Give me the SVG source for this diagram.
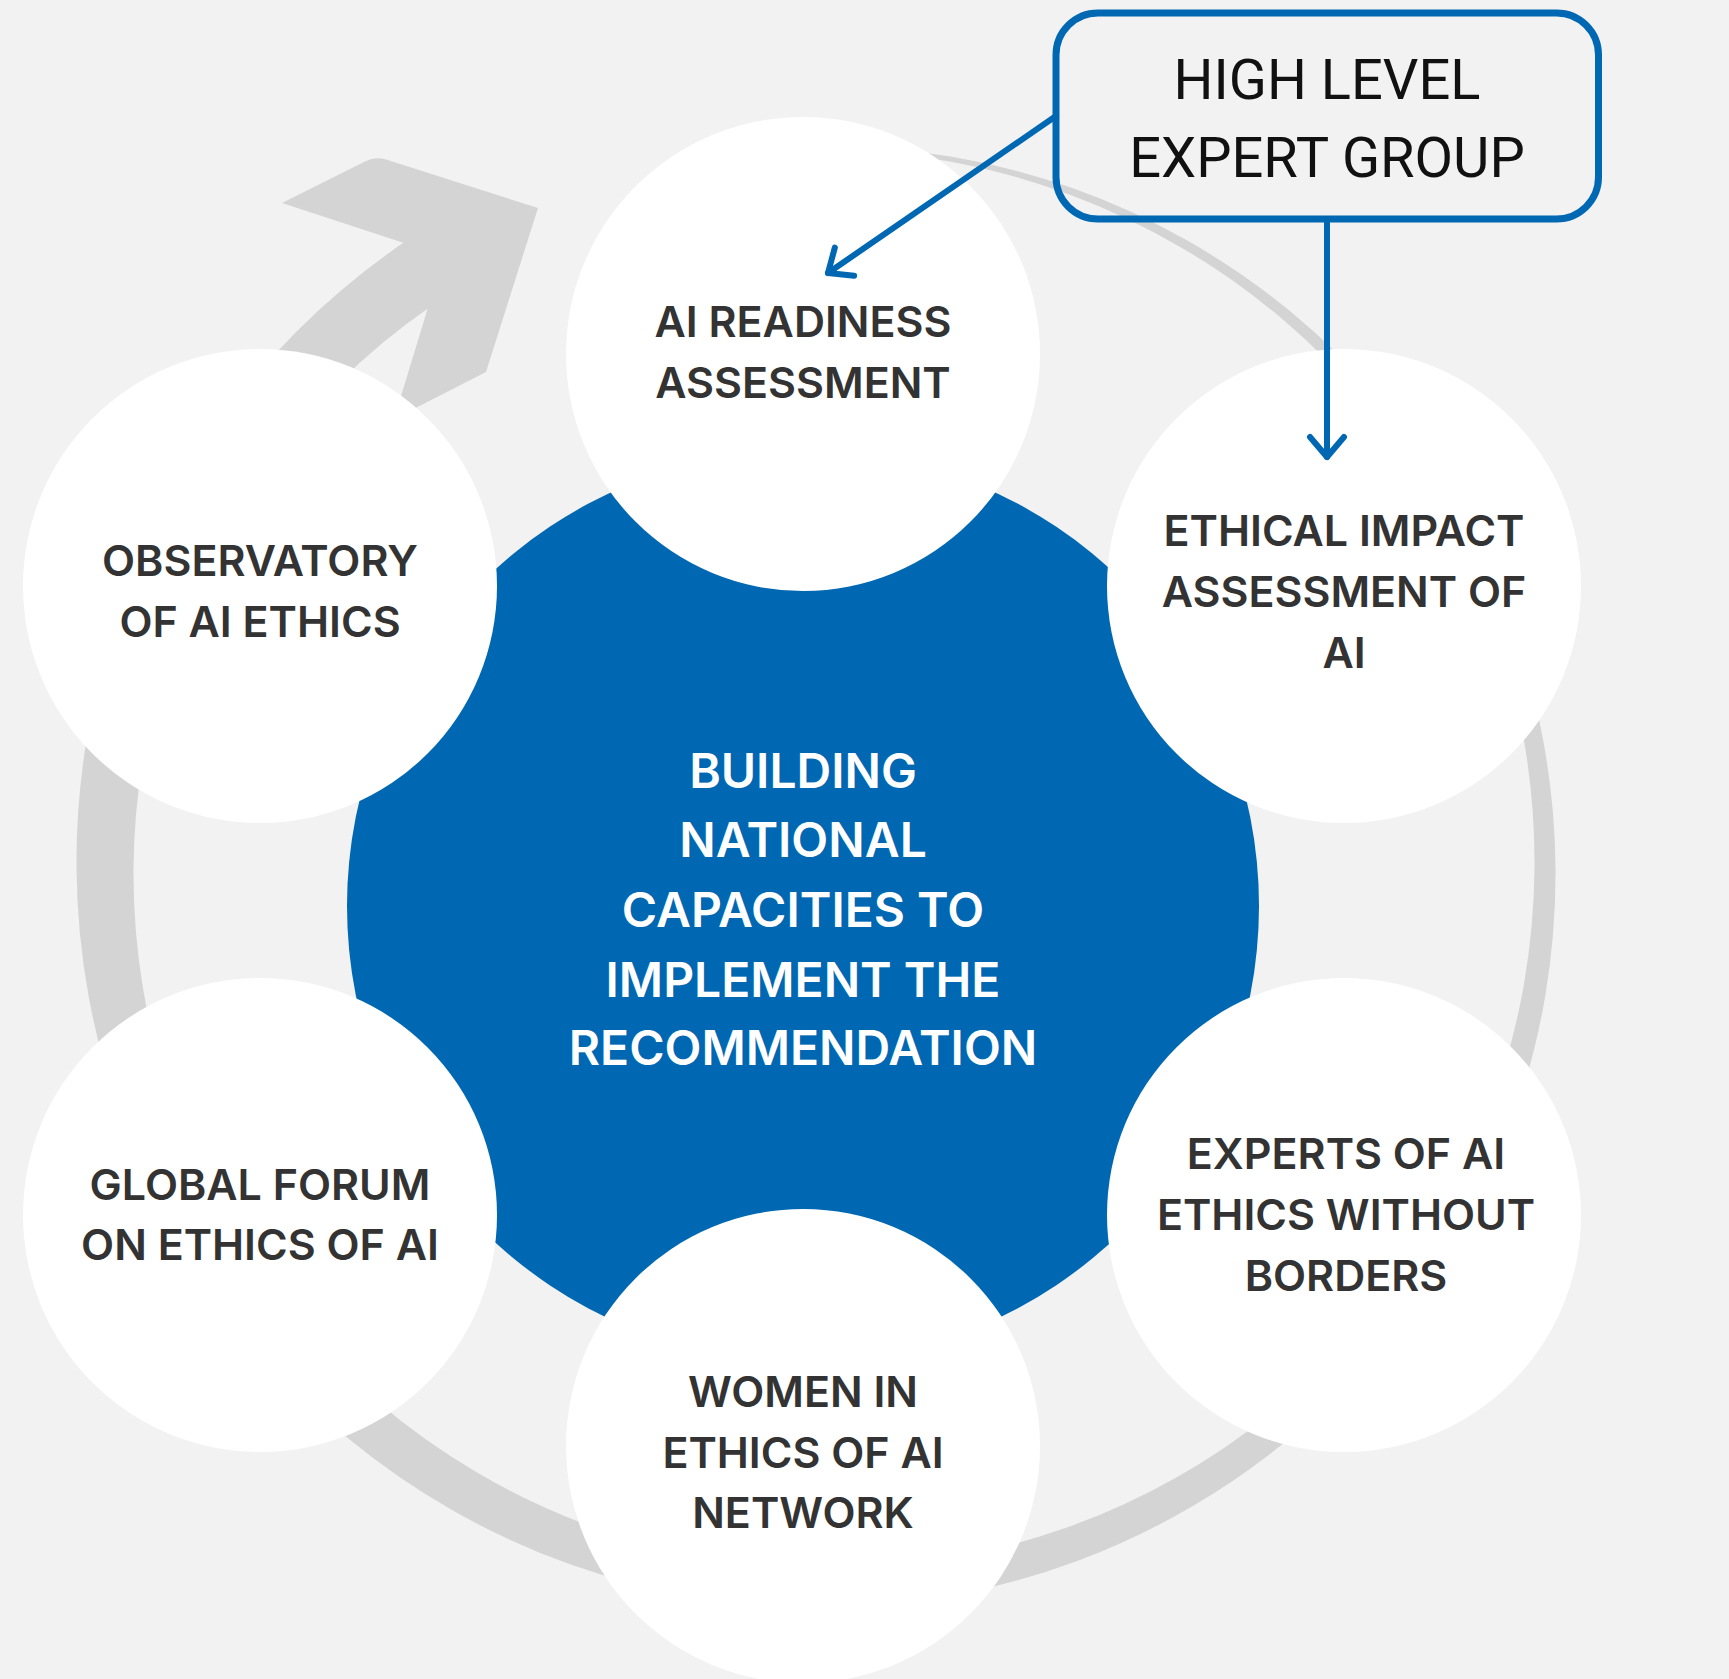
<svg xmlns="http://www.w3.org/2000/svg" width="1729" height="1679" viewBox="0 0 1729 1679">
<defs>
<style>
.bg{fill:#f2f2f2}
.ring{fill:#d4d4d4}
.hub{fill:#0067b2}
.node{fill:#ffffff}
.lbl{font-family:Inter,"Liberation Sans",sans-serif;font-weight:600;font-size:43px;fill:#333333;text-anchor:middle}
.hubtxt{font-family:Inter,"Liberation Sans",sans-serif;font-weight:600;font-size:48px;fill:#ffffff;text-anchor:middle}
.box{fill:none;stroke:#0067b2;stroke-width:7}
.boxtxt{font-family:Roboto,"Liberation Sans",sans-serif;font-weight:400;font-size:56px;fill:#111111;text-anchor:middle}
.conn{fill:none;stroke:#0067b2;stroke-width:6;stroke-linecap:round}
</style>
<marker id="chev" viewBox="-26 -22 32 44" markerWidth="32" markerHeight="44" refX="0" refY="0" orient="auto" markerUnits="userSpaceOnUse" overflow="visible">
<path d="M-20,-17 L0,0 L-20,17" fill="none" stroke="#0067b2" stroke-width="6" stroke-linecap="round" stroke-linejoin="round"/>
</marker>
</defs>
<rect class="bg" x="0" y="0" width="1729" height="1679"/>
<g id="cycle-arrow">
<path class="ring" d="M825,146.5 A722,722 0 0 1 950.4,156.5 A723,723 0 0 1 1072.4,188.1 A724,724 0 0 1 1187.3,240.6 A725,725 0 0 1 1291.4,312.3 A726,726 0 0 1 1381.5,401 A727,727 0 0 1 1455,504.2 A728,728 0 0 1 1509.6,618.9 A729,729 0 0 1 1543.4,741.4 A730,730 0 0 1 1555.5,868 A731,731 0 0 1 1545.4,995 A732,732 0 0 1 1513.3,1118.5 A733,733 0 0 1 1460.2,1234.8 A734,734 0 0 1 1387.6,1340.1 A735,735 0 0 1 1297.8,1431.4 A736,736 0 0 1 1193.3,1505.8 A737,737 0 0 1 1077.2,1561 A738,738 0 0 1 953.2,1595.3 A739,739 0 0 1 825,1607.5 A740,740 0 0 1 696.4,1597.2 A741,741 0 0 1 571.4,1564.8 A742,742 0 0 1 453.7,1511 A743,743 0 0 1 347.1,1437.5 A744,744 0 0 1 254.7,1346.6 A745,745 0 0 1 179.4,1240.8 A746,746 0 0 1 123.5,1123.3 A747,747 0 0 1 88.9,997.8 A748,748 0 0 1 76.5,868 A749,749 0 0 1 86.9,737.9 A750,750 0 0 1 119.8,611.3 A751,751 0 0 1 174.2,492.2 A752,752 0 0 1 248.6,384.3 A753,753 0 0 1 340.7,290.8 A754,754 0 0 1 403.3,242.8 L282,203 L365,161.5 Q375,156 386,159.5 L538,208 L486,372 L394,419 L427.6,308.8 A686,686 0 0 0 383.7,342.1 A687,687 0 0 0 298.4,426.1 A688,688 0 0 0 228.8,523.7 A689,689 0 0 0 177.1,632.2 A690,690 0 0 0 145,748.1 A691,691 0 0 0 133.5,868 A692,692 0 0 0 143,988.2 A693,693 0 0 0 173.3,1105.2 A694,694 0 0 0 223.6,1215.3 A695,695 0 0 0 292.2,1315.1 A696,696 0 0 0 377.3,1401.5 A697,697 0 0 0 476.2,1472 A698,698 0 0 0 586.1,1524.4 A699,699 0 0 0 703.6,1556.9 A700,700 0 0 0 825,1568.5 A701,701 0 0 0 946.8,1558.8 A702,702 0 0 0 1065.3,1528.1 A703,703 0 0 0 1176.8,1477.2 A704,704 0 0 0 1277.9,1407.6 A705,705 0 0 0 1365.4,1321.5 A706,706 0 0 0 1436.8,1221.3 A707,707 0 0 0 1489.8,1110 A708,708 0 0 0 1522.7,991 A709,709 0 0 0 1534.5,868 A710,710 0 0 0 1524.7,744.7 A711,711 0 0 0 1493.6,624.7 A712,712 0 0 0 1442,511.7 A713,713 0 0 0 1371.5,409.4 A714,714 0 0 0 1284.3,320.7 A715,715 0 0 0 1182.8,248.4 A716,716 0 0 0 1070,194.7 A717,717 0 0 0 949.6,161.4 A718,718 0 0 0 825,149.5 Z"/>
</g>
<g id="hub">
<circle class="hub" cx="803" cy="906" r="456"/>
<text class="hubtxt" x="803" y="788">BUILDING</text>
<text class="hubtxt" x="803" y="857">NATIONAL</text>
<text class="hubtxt" x="803" y="927">CAPACITIES TO</text>
<text class="hubtxt" x="803" y="997">IMPLEMENT THE</text>
<text class="hubtxt" x="803" y="1065">RECOMMENDATION</text>
</g>
<g id="ai-readiness">
<circle class="node" cx="803" cy="354" r="237"/>
<text class="lbl" x="803" y="337">AI READINESS</text>
<text class="lbl" x="803" y="398">ASSESSMENT</text>
</g>
<g id="ethical-impact">
<circle class="node" cx="1344" cy="586" r="237"/>
<text class="lbl" x="1344" y="546">ETHICAL IMPACT</text>
<text class="lbl" x="1344" y="607">ASSESSMENT OF</text>
<text class="lbl" x="1344" y="668">AI</text>
</g>
<g id="experts">
<circle class="node" cx="1344" cy="1215" r="237"/>
<text class="lbl" x="1346" y="1169">EXPERTS OF AI</text>
<text class="lbl" x="1346" y="1230">ETHICS WITHOUT</text>
<text class="lbl" x="1346" y="1291">BORDERS</text>
</g>
<g id="women">
<circle class="node" cx="803" cy="1446" r="237"/>
<text class="lbl" x="803" y="1407">WOMEN IN</text>
<text class="lbl" x="803" y="1468">ETHICS OF AI</text>
<text class="lbl" x="803" y="1528">NETWORK</text>
</g>
<g id="global-forum">
<circle class="node" cx="260" cy="1215" r="237"/>
<text class="lbl" x="260" y="1200">GLOBAL FORUM</text>
<text class="lbl" x="260" y="1260">ON ETHICS OF AI</text>
</g>
<g id="observatory">
<circle class="node" cx="260" cy="586" r="237"/>
<text class="lbl" x="260" y="576">OBSERVATORY</text>
<text class="lbl" x="260" y="637">OF AI ETHICS</text>
</g>
<g id="high-level-expert-group">
<rect class="box" x="1056" y="13" width="542.5" height="206" rx="42" ry="42"/>
<text class="boxtxt" x="1327" y="99">HIGH LEVEL</text>
<text class="boxtxt" x="1327" y="177">EXPERT GROUP</text>
</g>
<g id="connectors">
<line class="conn" x1="1056" y1="116" x2="828" y2="273" marker-end="url(#chev)"/>
<line class="conn" x1="1327" y1="219" x2="1327" y2="457" marker-end="url(#chev)"/>
</g>
</svg>
